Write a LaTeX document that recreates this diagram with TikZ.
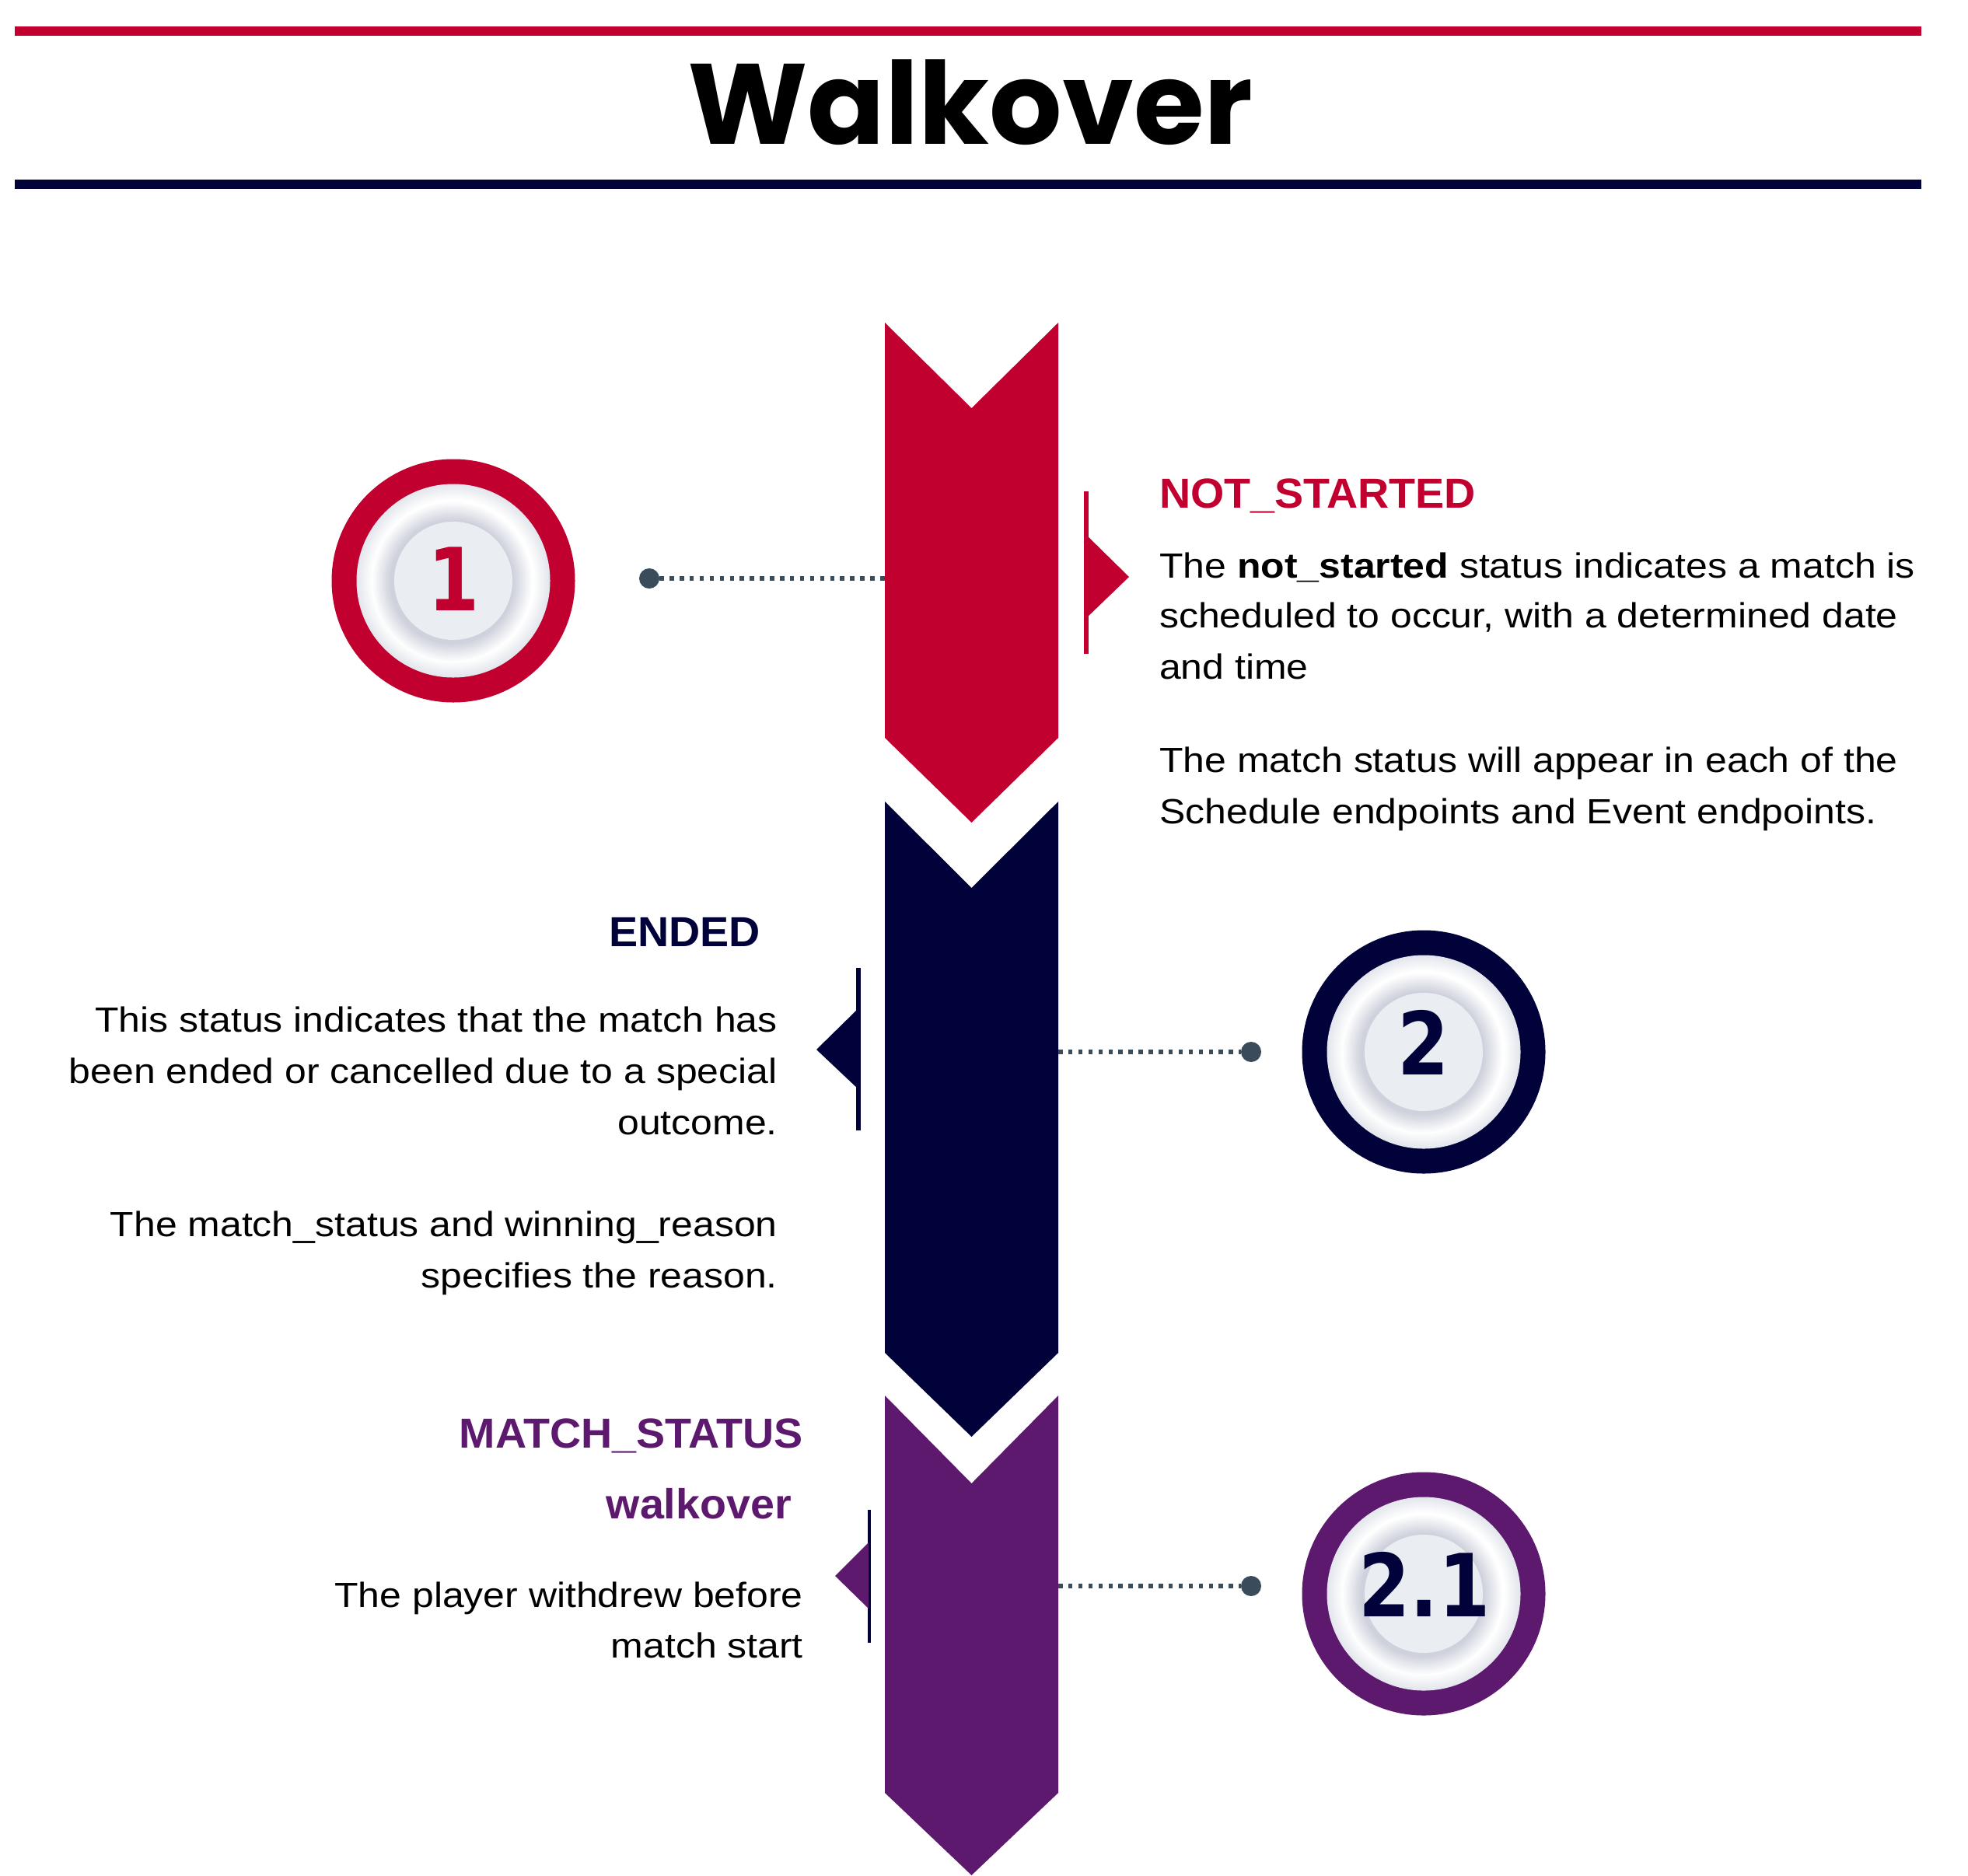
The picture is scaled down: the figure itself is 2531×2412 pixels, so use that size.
\documentclass[tikz,border=0pt]{standalone}
\usepackage{fontspec}
\setmainfont{Liberation Sans}[FakeStretch=1.11]
\newfontfamily\headfont{Liberation Sans}[FakeStretch=1.03]
\newfontfamily\titlefont{Poppins}
\newfontfamily\numfont{DejaVu Sans}[FakeStretch=0.85]
\definecolor{wred}{HTML}{C1002F}
\definecolor{wnavy}{HTML}{01023A}
\definecolor{wpurple}{HTML}{5D196E}
\definecolor{wdot}{HTML}{3A4B5C}
\definecolor{ringout}{HTML}{E3E6EC}
\definecolor{ringshadow}{HTML}{CDD0DB}
\definecolor{btninner}{HTML}{EAEDF1}
\tikzset{
  bodytext/.style={font=\fontsize{45}{54}\selectfont, inner sep=0pt},
  headtext/.style={font=\headfont\bfseries\fontsize{54}{60}\selectfont, inner sep=0pt},
  numtext/.style={font=\numfont\bfseries\fontsize{112}{112}\selectfont, inner sep=0pt},
  dotnode/.style={circle, fill=wdot, inner sep=0pt, minimum size=26pt},
  dotline/.style={draw=wdot, line width=6.5pt, dash pattern=on 5.5pt off 7.4pt},
  btnring/.style={circle, inner sep=0pt, minimum size=313pt},
}
\newcommand\wkbutton[1]{%
  \foreach \k in {0,...,20}{%
    \pgfmathsetmacro\rr{124.5-\k}%
    \pgfmathtruncatemacro\pp{\k*5}%
    \fill[white!\pp!ringout] (#1.center) circle (\rr pt);}%
  \foreach \k in {0,...,24}{%
    \pgfmathsetmacro\rr{103.5-\k}%
    \pgfmathtruncatemacro\pp{\k*4}%
    \fill[ringshadow!\pp!white] ([shift={(-1.5,1.5)}]#1.center) circle (\rr pt);}%
  \fill[btninner] (#1.center) circle (76pt);%
}
\begin{document}
\begin{tikzpicture}[x=1pt,y=-1pt]
\useasboundingbox (0,0) rectangle (2531,2412);
\fill[white] (0,0) rectangle (2531,2412);

% header bars and title
\fill[wred] (19,34) rectangle (2471,46);
\fill[wnavy] (19,231) rectangle (2471,243);
\node (title) [font=\titlefont\bfseries\fontsize{147}{147}\selectfont, anchor=base, inner sep=0pt] at (1248,185) {Walkover};

% chevrons
\fill[wred] (1138,415) -- (1249.5,525) -- (1361,415) -- (1361,949) -- (1249.5,1058) -- (1138,949) -- cycle;
\fill[wnavy] (1138,1031) -- (1249.5,1142) -- (1361,1031) -- (1361,1740) -- (1249.5,1848) -- (1138,1740) -- cycle;
\fill[wpurple] (1138,1795) -- (1249.5,1908) -- (1361,1795) -- (1361,2306) -- (1249.5,2412) -- (1138,2306) -- cycle;

% pointer triangles with bars
\draw[wred, line width=5.5pt] (1397,632) -- (1397,841);
\fill[wred] (1397,688) -- (1452,742) -- (1397,795) -- cycle;
\draw[wnavy, line width=5.5pt] (1104,1245) -- (1104,1454);
\fill[wnavy] (1104,1297) -- (1050,1350) -- (1104,1401) -- cycle;
\draw[wnavy, line width=4.5pt] (1118,1942) -- (1118,2113);
\fill[wpurple] (1117,1984) -- (1074,2027) -- (1117,2069) -- cycle;

% buttons
\node (btn1) [btnring, fill=wred] at (583,747) {};
\wkbutton{btn1}
\node (num1) [numtext, text=wred] at (584,745) {1};

\node (btn2) [btnring, fill=wnavy] at (1831,1353) {};
\wkbutton{btn2}
\node (num2) [numtext, text=wnavy] at (1831,1341) {2};

\node (btn3) [btnring, fill=wpurple] at (1831,2050) {};
\wkbutton{btn3}
\node (num3) [numtext, text=wnavy] at (1832,2038) {2.1};

% connectors
\node (dot1) [dotnode] at (835,744) {};
\coordinate (edge1) at (1138,744);
\draw[dotline] (dot1.east) -- (edge1);

\coordinate (edge2) at (1361,1353);
\node (dot2) [dotnode] at (1609,1353) {};
\draw[dotline] (edge2) -- (dot2.west);

\coordinate (edge3) at (1361,2040);
\node (dot3) [dotnode] at (1609,2040) {};
\draw[dotline] (edge3) -- (dot3.west);

% right text block (NOT_STARTED)
\node (h1) [headtext, text=wred, anchor=base west] at (1491,653) {NOT\_STARTED};
\node (t1a) [bodytext, anchor=base west] at (1491,743) {The \textbf{not\_started} status indicates a match is};
\node (t1b) [bodytext, anchor=base west] at (1491,807) {scheduled to occur, with a determined date};
\node (t1c) [bodytext, anchor=base west] at (1491,873) {and time};
\node (t1d) [bodytext, anchor=base west] at (1491,993) {The match status will appear in each of the};
\node (t1e) [bodytext, anchor=base west] at (1491,1059) {Schedule endpoints and Event endpoints.};

% left text block (ENDED)
\node (h2) [headtext, text=wnavy, anchor=base east] at (978,1217) {ENDED};
\node (t2a) [bodytext, anchor=base east] at (1000,1327) {This status indicates that the match has};
\node (t2b) [bodytext, anchor=base east] at (1000,1393) {been ended or cancelled due to a special};
\node (t2c) [bodytext, anchor=base east] at (1000,1459) {outcome.};
\node (t2d) [bodytext, anchor=base east] at (1000,1590) {The match\_status and winning\_reason};
\node (t2e) [bodytext, anchor=base east] at (1000,1656) {specifies the reason.};

% left text block (MATCH_STATUS)
\node (h3) [headtext, text=wpurple, anchor=base east] at (1033,1862) {MATCH\_STATUS};
\node (h3b) [headtext, text=wpurple, anchor=base east] at (1018,1953) {walkover};
\node (t3a) [bodytext, anchor=base east] at (1033,2067) {The player withdrew before};
\node (t3b) [bodytext, anchor=base east] at (1033,2132) {match start};
\end{tikzpicture}
\end{document}
